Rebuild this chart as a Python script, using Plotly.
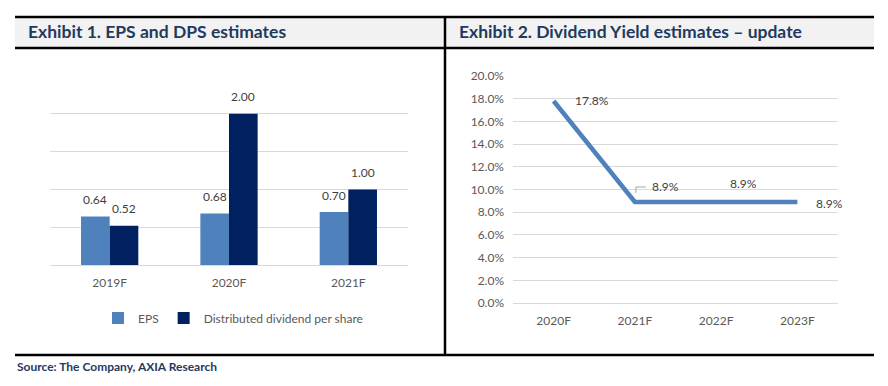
import plotly.graph_objects as go

W, H = 888, 386

# ---- data ----
bar_categories = ["2019F", "2020F", "2021F"]
eps_values = [0.64, 0.68, 0.70]
dps_values = [0.52, 2.00, 1.00]
eps_name = "EPS"
dps_name = "Distributed dividend per share"

yield_categories = ["2020F", "2021F", "2022F", "2023F"]
yield_values = [0.178, 0.089, 0.089, 0.089]

title_left = "Exhibit 1. EPS and DPS estimates"
title_right = "Exhibit 2. Dividend Yield estimates \u2013 update"
source_text = "Source: The Company, AXIA Research"

# ---- helpers ----
def px(x):
    return x / W

def py(y):
    return 1 - y / H

FONT = "Lato, 'Open Sans', sans-serif"
TICK_COLOR = "#595959"
LABEL_COLOR = "#404040"
GRID = "#D9D9D9"
EPS_COLOR = "#4F81BD"
DPS_COLOR = "#002060"
LINE_COLOR = "#4F81BD"
TITLE_COLOR = "#1F3A5F"

fig = go.Figure()

fig.add_trace(go.Bar(x=bar_categories, y=eps_values, name=eps_name,
                     marker=dict(color=EPS_COLOR, line=dict(width=0)),
                     xaxis="x", yaxis="y"))
fig.add_trace(go.Bar(x=bar_categories, y=dps_values, name=dps_name,
                     marker=dict(color=DPS_COLOR, line=dict(width=0)),
                     xaxis="x", yaxis="y"))

fig.add_trace(go.Scatter(x=yield_categories, y=yield_values, mode="lines",
                         line=dict(color=LINE_COLOR, width=4.5),
                         showlegend=False, xaxis="x2", yaxis="y2"))

annotations = []
# bar labels
half_bar = 14.3
for cat, v in zip(bar_categories, eps_values):
    annotations.append(dict(xref="x", yref="y", x=cat, y=v, text=f"{v:.2f}",
                            showarrow=False, xshift=-half_bar, yshift=17,
                            yanchor="middle",
                            font=dict(family=FONT, size=12, color=LABEL_COLOR)))
for cat, v in zip(bar_categories, dps_values):
    annotations.append(dict(xref="x", yref="y", x=cat, y=v, text=f"{v:.2f}",
                            showarrow=False, xshift=half_bar, yshift=17,
                            yanchor="middle",
                            font=dict(family=FONT, size=12, color=LABEL_COLOR)))

# line labels (offsets in pixels)
line_label_shifts = [(38, 0), (31, 15), (27, 18), (32, -2)]
for cat, v, (dx, dy) in zip(yield_categories, yield_values, line_label_shifts):
    annotations.append(dict(xref="x2", yref="y2", x=cat, y=v, text=f"{v*100:.1f}%",
                            showarrow=False, xshift=dx, yshift=dy,
                            yanchor="middle",
                            font=dict(family=FONT, size=12, color=LABEL_COLOR)))

# titles and source
annotations.append(dict(xref="paper", yref="paper", x=px(26), y=py(32), text=f"<b>{title_left}</b>",
                        showarrow=False, xanchor="left", yanchor="middle",
                        font=dict(family=FONT, size=17.5, color=TITLE_COLOR)))
annotations.append(dict(xref="paper", yref="paper", x=px(457), y=py(32), text=f"<b>{title_right}</b>",
                        showarrow=False, xanchor="left", yanchor="middle",
                        font=dict(family=FONT, size=17.5, color=TITLE_COLOR)))
annotations.append(dict(xref="paper", yref="paper", x=px(15), y=py(366), text=f"<b>{source_text}</b>",
                        showarrow=False, xanchor="left", yanchor="middle",
                        font=dict(family=FONT, size=12, color=TITLE_COLOR)))

shapes = [
    dict(type="rect", xref="paper", yref="paper", x0=px(15), x1=px(874), y0=py(48), y1=py(17),
         fillcolor="#F2F2F2", line=dict(width=0), layer="below"),
    dict(type="line", xref="paper", yref="paper", x0=px(15), x1=px(874), y0=py(17), y1=py(17),
         line=dict(color="#000000", width=2.5)),
    dict(type="line", xref="paper", yref="paper", x0=px(15), x1=px(874), y0=py(48), y1=py(48),
         line=dict(color="#000000", width=2.5)),
    dict(type="line", xref="paper", yref="paper", x0=px(15), x1=px(874), y0=py(355), y1=py(355),
         line=dict(color="#000000", width=2.5)),
    dict(type="line", xref="paper", yref="paper", x0=px(445), x1=px(445), y0=py(17), y1=py(355),
         line=dict(color="#000000", width=2.5)),
    # leader line for the 2021F label
    dict(type="path", xref="x2", yref="y2", xsizemode="pixel", ysizemode="pixel",
         xanchor=yield_categories[1], yanchor=yield_values[1],
         path="M 1 9 L 1 15 L 11 15", line=dict(color="#A6A6A6", width=1)),
]

fig.update_layout(
    width=W, height=H,
    margin=dict(l=0, r=0, t=0, b=0, pad=0, autoexpand=False),
    paper_bgcolor="white", plot_bgcolor="white",
    barmode="group", bargap=0.52, bargroupgap=0,
    font=dict(family=FONT, size=11, color=TICK_COLOR),
    showlegend=True,
    legend=dict(orientation="h", x=px(233), y=py(318), xanchor="center", yanchor="middle",
                font=dict(family=FONT, size=12, color=TICK_COLOR),
                itemwidth=30, tracegroupgap=0, bgcolor="rgba(0,0,0,0)"),
    xaxis=dict(domain=[px(50), px(408)], anchor="y", type="category",
               range=[-0.5, 2.5], showgrid=False, showline=False, zeroline=False,
               ticks="", automargin=False, ticklabelstandoff=9,
               tickfont=dict(family=FONT, size=12, color=TICK_COLOR)),
    yaxis=dict(domain=[py(265), py(76)], anchor="x", range=[0, 2.5], dtick=0.5,
               showticklabels=False, showgrid=True, gridcolor=GRID, gridwidth=1, automargin=False,
               zeroline=True, zerolinecolor=GRID, zerolinewidth=1, showline=False, ticks=""),
    xaxis2=dict(domain=[px(513), px(838)], anchor="y2", type="category",
                range=[-0.5, 3.5], showgrid=False, showline=False, zeroline=False, automargin=False,
                ticks="", ticklabelstandoff=9,
                tickfont=dict(family=FONT, size=12, color=TICK_COLOR)),
    yaxis2=dict(domain=[py(303), py(76)], anchor="x2", range=[0, 0.2], dtick=0.02,
                tickformat=".1%", showgrid=True, gridcolor=GRID, gridwidth=1, automargin=False,
                zeroline=True, zerolinecolor=GRID, zerolinewidth=1, showline=False,
                ticks="", ticklabelstandoff=8,
                tickfont=dict(family=FONT, size=12, color=TICK_COLOR)),
    annotations=annotations,
    shapes=shapes,
)

fig.write_html("out.html", config={"displayModeBar": False},
               post_script="document.body.style.margin='0';")
